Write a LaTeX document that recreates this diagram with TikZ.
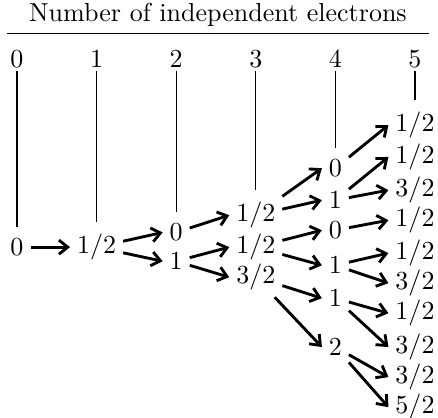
\documentclass[tikz,border=0pt]{standalone}
\usetikzlibrary{arrows.meta}
\begin{document}
\begin{tikzpicture}[x=30.6pt,y=12.04pt,>={Straight Barb[length=3.4pt,width=5.4pt]},
  st/.style={inner sep=2.5pt},
  hd/.style={anchor=base,inner sep=1.5pt},
  arr/.style={->,line width=1.1pt},
  tie/.style={line width=.4pt,shorten >=1.8pt}]
 \useasboundingbox (-.2136,-5.431) rectangle (5.289,7.891);
 % heading
 \node[anchor=base,minimum width=161.5pt,inner xsep=0pt,inner ysep=2.3pt] (title) at (2.525,7.19) {Number of independent electrons};
 \draw[line width=.4pt] (title.south west) -- (title.south east);
 \foreach \c in {0,...,5} \node[hd] (h\c) at (\c,5.75) {\(\c\)};
 % spins
 \node[st] (n0) at (0,0) {\(0\)};
 \node[st] (n1) at (1,0) {\(1/2\)};
 \node[st] (n2a) at (2,.47) {\(0\)};
 \node[st] (n2b) at (2,-.45) {\(1\)};
 \node[st] (n3a) at (3,1.02) {\(1/2\)};
 \node[st] (n3b) at (3,0) {\(1/2\)};
 \node[st] (n3c) at (3,-.96) {\(3/2\)};
 \node[st] (n4a) at (4,2.52) {\(0\)};
 \node[st] (n4b) at (4,1.5) {\(1\)};
 \node[st] (n4c) at (4,.54) {\(0\)};
 \node[st] (n4d) at (4,-.58) {\(1\)};
 \node[st] (n4e) at (4,-1.63) {\(1\)};
 \node[st] (n4f) at (4,-3.19) {\(2\)};
 \node[st] (n5a) at (5,3.9) {\(1/2\)};
 \node[st] (n5b) at (5,2.88) {\(1/2\)};
 \node[st] (n5c) at (5,1.82) {\(3/2\)};
 \node[st] (n5d) at (5,.86) {\(1/2\)};
 \node[st] (n5e) at (5,-.19) {\(1/2\)};
 \node[st] (n5f) at (5,-1.15) {\(3/2\)};
 \node[st] (n5g) at (5,-2.11) {\(1/2\)};
 \node[st] (n5h) at (5,-3.19) {\(3/2\)};
 \node[st] (n5i) at (5,-4.15) {\(3/2\)};
 \node[st] (n5j) at (5,-5.11) {\(5/2\)};
 % columns
 \foreach \c/\t in {0/n0,1/n1,2/n2a,3/n3a,4/n4a,5/n5a}
  \draw[tie] (h\c) -- (\t);
 % couplings
 \foreach \a/\b in {n0/n1,n1/n2a,n1/n2b,n2a/n3a,n2b/n3b,n2b/n3c,
   n3a/n4a,n3a/n4b,n3b/n4c,n3b/n4d,n3c/n4e,n3c/n4f,
   n4a/n5a,n4b/n5b,n4b/n5c,n4c/n5d,n4d/n5e,n4d/n5f,
   n4e/n5g,n4e/n5h,n4f/n5i,n4f/n5j}
  \draw[arr] (\a) -- (\b.west);
\end{tikzpicture}
\end{document}
